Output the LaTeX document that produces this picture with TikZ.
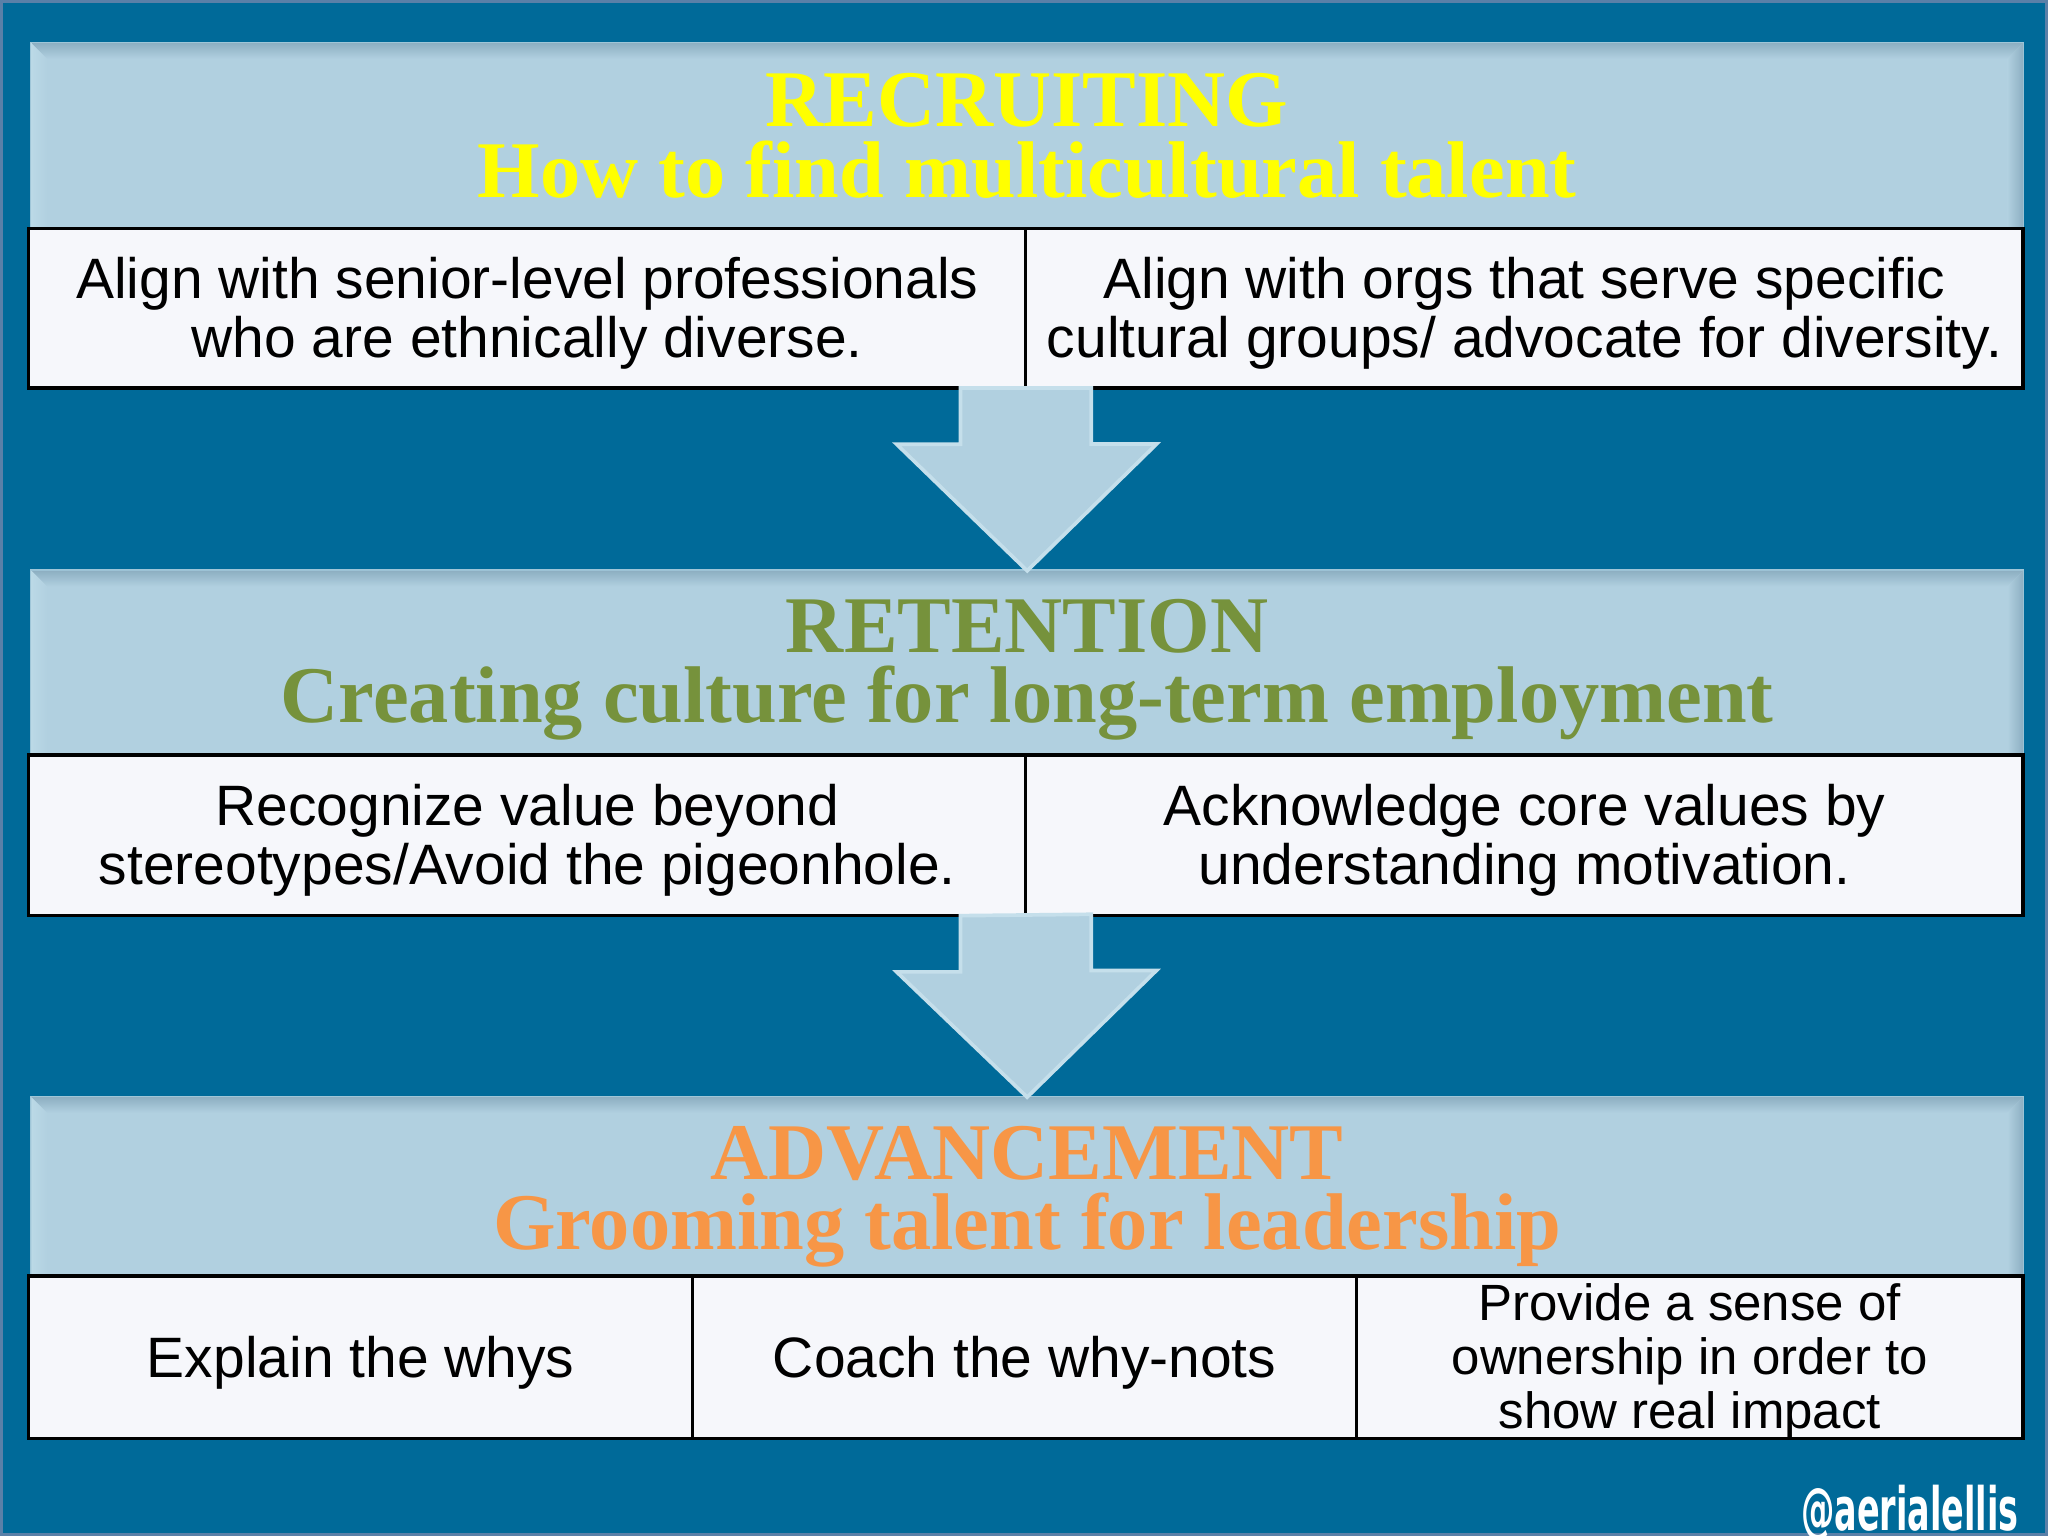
\documentclass[tikz,border=0pt]{standalone}
\usepackage{fontspec}
\setmainfont{Liberation Serif}
\setsansfont{Liberation Sans}
\newfontfamily\creditfont{DejaVu Sans}
\usetikzlibrary{calc}

\begin{document}
\begin{tikzpicture}[x=0.01cm, y=-0.01cm,
    panel/.style={fill=panelblue, draw=paneledge, line width=0.6pt, inner sep=0pt, outer sep=0pt,
        anchor=north west, minimum width=15.24cm},
    headtext/.style={inner sep=0pt, align=center, font=\fontsize{17.5pt}{15.3pt}\selectfont\bfseries},
    cellbox/.style={fill=cellwhite, draw=black, line width=0.7pt, inner sep=0pt, outer sep=0pt,
        anchor=north west},
    celltext/.style={inner sep=0pt, align=center, font=\sffamily\fontsize{12.4pt}{12.9pt}\selectfont},
    flowarrow/.style={fill=panelblue, draw=arrowedge, line width=0.8pt, line join=miter},
    credit/.style={text=white, inner sep=0pt, xscale=0.56, font=\creditfont\bfseries\fontsize{13pt}{13pt}\selectfont}
]
    \definecolor{bgblue}{HTML}{006A99}
    \definecolor{panelblue}{HTML}{B1D0E0}
    \definecolor{paneledge}{HTML}{9FC6D8}
    \definecolor{bevdark}{HTML}{8DAFC2}
    \definecolor{bevlight}{HTML}{BBD9E6}
    \definecolor{cellwhite}{HTML}{F6F7FB}
    \definecolor{arrowedge}{HTML}{C5DFEB}
    \definecolor{headyellow}{HTML}{FFFF00}
    \definecolor{headgreen}{HTML}{76923C}
    \definecolor{headorange}{HTML}{F79646}
    \definecolor{framegray}{HTML}{5A80A8}
    \useasboundingbox (0,0) rectangle (1568,1176);
    \clip (0,0) rectangle (1568,1176);
    \fill[bgblue] (0,0) rectangle (1568,1176);
    \draw[framegray, line width=1.2pt] (0,0) rectangle (1568,1176);

    \node[panel, minimum height=1.42cm] (p1) at (24,33) {};
    \node[panel, minimum height=1.41cm] (p2) at (24,437) {};
    \node[panel, minimum height=1.37cm] (p3) at (24,840) {};
    \foreach \p in {p1, p2, p3}{
        \shade[top color=bevdark, bottom color=panelblue] (\p.north west) -- (\p.north east)
            -- ($(\p.north east)+(-12,12)$) -- ($(\p.north west)+(12,12)$) -- cycle;
        \shade[left color=panelblue, right color=bevdark] (\p.north east) -- ($(\p.north east)+(-12,12)$)
            -- ($(\p.south east)+(-12,0)$) -- (\p.south east) -- cycle;
        \shade[left color=bevlight, right color=panelblue] (\p.north west) -- ($(\p.north west)+(12,12)$)
            -- ($(\p.south west)+(12,0)$) -- (\p.south west) -- cycle;
    }
    \node[headtext, text=headyellow] (h1) at ($(p1.center)+(0,0)$) {RECRUITING\\How to find multicultural talent};
    \node[headtext, text=headgreen] (h2) at ($(p2.center)+(0,5)$) {RETENTION\\Creating culture for long-term employment};
    \node[headtext, text=headorange] (h3) at ($(p3.center)+(0,8)$) {ADVANCEMENT\\Grooming talent for leadership};

    \node[cellbox, minimum width=7.63cm, minimum height=1.22cm] (r1a) at (22,175) {};
    \node[cellbox, minimum width=7.63cm, minimum height=1.22cm] (r1b) at (r1a.north east) {};
    \node[cellbox, minimum width=7.63cm, minimum height=1.23cm] (r2a) at (22,578) {};
    \node[cellbox, minimum width=7.63cm, minimum height=1.23cm] (r2b) at (r2a.north east) {};
    \node[cellbox, minimum width=5.08cm, minimum height=1.24cm] (r3a) at (22,977) {};
    \node[cellbox, minimum width=5.08cm, minimum height=1.24cm] (r3b) at (r3a.north east) {};
    \node[cellbox, minimum width=5.10cm, minimum height=1.24cm] (r3c) at (r3b.north east) {};

    \node[celltext] (t1a) at ($(r1a.center)+(0,4)$) {Align with senior-level professionals\\who are ethnically diverse.};
    \node[celltext] (t1b) at ($(r1b.center)+(0,4)$) {Align with orgs that serve specific\\cultural groups/ advocate for diversity.};
    \node[celltext] (t2a) at ($(r2a.center)+(0,4)$) {Recognize value beyond\\stereotypes/Avoid the pigeonhole.};
    \node[celltext] (t2b) at ($(r2b.center)+(0,4)$) {Acknowledge core values by\\understanding motivation.};
    \node[celltext] (t3a) at ($(r3a.center)+(0,4)$) {Explain the whys};
    \node[celltext] (t3b) at ($(r3b.center)+(0,4)$) {Coach the why-nots};
    \node[celltext, font=\sffamily\fontsize{11.1pt}{11.75pt}\selectfont] (t3c) at ($(r3c.center)+(0,3)$) {Provide a sense of\\ownership in order to\\show real impact};

    \foreach \from/\to in {r1a/p2, r2a/p3}{
        \draw[flowarrow] ($(\from.south east)+(-50,0)$) -- ++(0,43) -- ++(-49,0) -- (\to.north)
            -- ++(99,-97) -- ++(-50,0) -- ++(0,-43) -- cycle;
    }

    \node[credit, anchor=base east] (handle) at (1546,1172) {@aerialellis};
\end{tikzpicture}
\end{document}
